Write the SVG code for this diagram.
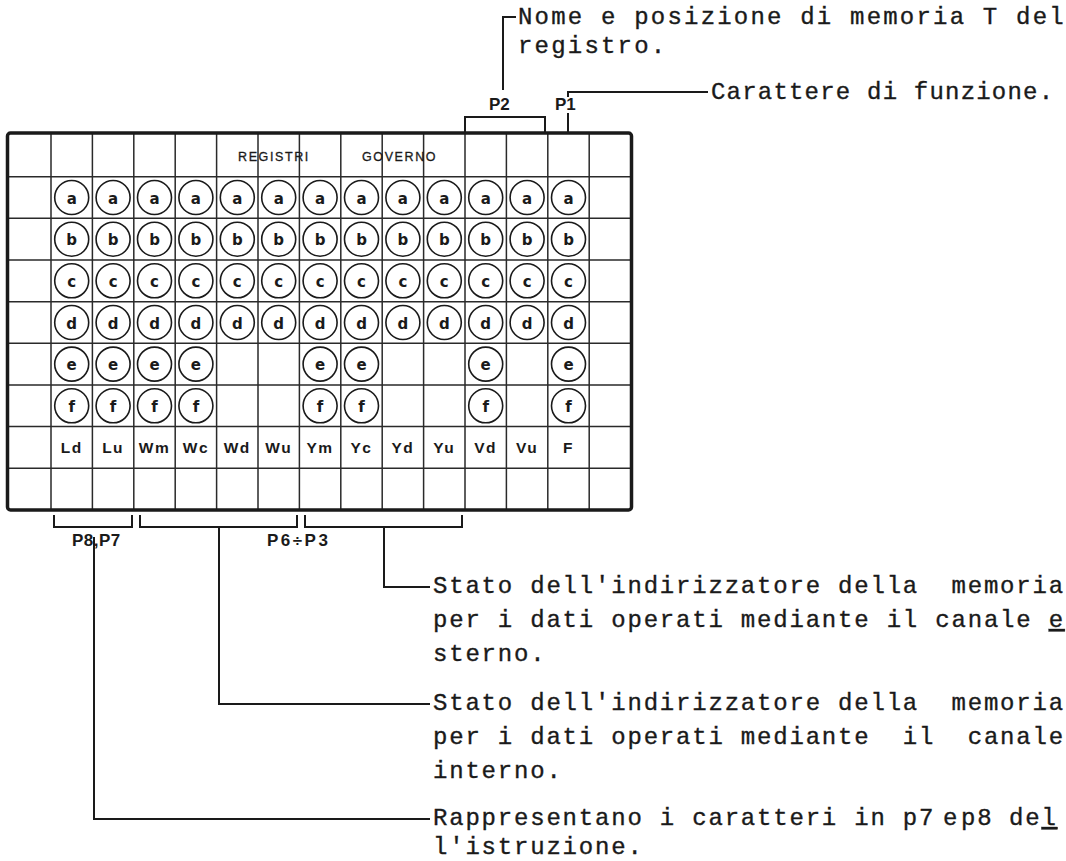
<svg xmlns="http://www.w3.org/2000/svg" width="1066" height="861" viewBox="0 0 1066 861">
<style>
.frame{fill:none;stroke:#1a1a1a;stroke-width:3.5}
.grid{stroke:#2a2a2a;stroke-width:1.5;fill:none}
.cir{fill:none;stroke:#1a1a1a;stroke-width:1.6}
.lt{font-family:"DejaVu Sans",sans-serif;font-weight:bold;font-size:15px;fill:#1a1a1a;text-anchor:middle}
.lab{font-family:"Liberation Sans",Arial,sans-serif;font-weight:bold;font-size:15.5px;letter-spacing:1.5px;fill:#1a1a1a;text-anchor:middle}
.hdr{font-family:"Liberation Sans",Arial,sans-serif;font-size:12.5px;letter-spacing:1.6px;fill:#1a1a1a;stroke:#1a1a1a;stroke-width:0.3}
.pl{font-family:"Liberation Sans",Arial,sans-serif;font-weight:bold;font-size:17px;fill:#1a1a1a}
.tw{font-family:"Liberation Mono","Courier New",monospace;font-size:24px;letter-spacing:1.8px;fill:#1a1a1a;stroke:#1a1a1a;stroke-width:0.35;white-space:pre}
.con{fill:none;stroke:#1a1a1a;stroke-width:2}
</style>
<defs>
<g id="ca"><circle class="cir" r="17"/><text class="lt" y="6">a</text></g>
<g id="cb"><circle class="cir" r="17"/><text class="lt" y="6">b</text></g>
<g id="cc"><circle class="cir" r="17"/><text class="lt" y="6">c</text></g>
<g id="cd"><circle class="cir" r="17"/><text class="lt" y="6">d</text></g>
<g id="ce"><circle class="cir" r="17"/><text class="lt" y="6">e</text></g>
<g id="cf"><circle class="cir" r="17"/><text class="lt" y="6">f</text></g>
</defs>
<rect width="1066" height="861" fill="#fff"/>

<g id="panel">
<path class="grid" d="M51,133V510M92.4,133V510M133.8,133V510M175.2,133V510M216.6,133V510M258,133V510M299.4,133V510M340.8,133V510M382.2,133V510M423.6,133V510M465,133V510M506.4,133V510M547.8,133V510M589.2,133V510"/>
<path class="grid" d="M7.5,176.7H631.5M7.5,218.35H631.5M7.5,260H631.5M7.5,301.65H631.5M7.5,343.3H631.5M7.5,384.95H631.5M7.5,426.6H631.5M7.5,468.25H631.5"/>
<rect class="frame" x="7.5" y="133" width="624" height="377" rx="3"/>
<text class="hdr" x="238" y="161">REGISTRI</text>
<text class="hdr" x="362" y="161">GOVERNO</text>
</g>

<g id="col-Ld"><use href="#ca" x="71.7" y="197.5"/><use href="#cb" x="71.7" y="239.2"/><use href="#cc" x="71.7" y="280.8"/><use href="#cd" x="71.7" y="322.5"/><use href="#ce" x="71.7" y="364.1"/><use href="#cf" x="71.7" y="405.8"/><text class="lab" x="71.7" y="453">Ld</text></g>
<g id="col-Lu"><use href="#ca" x="113.1" y="197.5"/><use href="#cb" x="113.1" y="239.2"/><use href="#cc" x="113.1" y="280.8"/><use href="#cd" x="113.1" y="322.5"/><use href="#ce" x="113.1" y="364.1"/><use href="#cf" x="113.1" y="405.8"/><text class="lab" x="113.1" y="453">Lu</text></g>
<g id="col-Wm"><use href="#ca" x="154.5" y="197.5"/><use href="#cb" x="154.5" y="239.2"/><use href="#cc" x="154.5" y="280.8"/><use href="#cd" x="154.5" y="322.5"/><use href="#ce" x="154.5" y="364.1"/><use href="#cf" x="154.5" y="405.8"/><text class="lab" x="154.5" y="453">Wm</text></g>
<g id="col-Wc"><use href="#ca" x="195.9" y="197.5"/><use href="#cb" x="195.9" y="239.2"/><use href="#cc" x="195.9" y="280.8"/><use href="#cd" x="195.9" y="322.5"/><use href="#ce" x="195.9" y="364.1"/><use href="#cf" x="195.9" y="405.8"/><text class="lab" x="195.9" y="453">Wc</text></g>
<g id="col-Wd"><use href="#ca" x="237.3" y="197.5"/><use href="#cb" x="237.3" y="239.2"/><use href="#cc" x="237.3" y="280.8"/><use href="#cd" x="237.3" y="322.5"/><text class="lab" x="237.3" y="453">Wd</text></g>
<g id="col-Wu"><use href="#ca" x="278.7" y="197.5"/><use href="#cb" x="278.7" y="239.2"/><use href="#cc" x="278.7" y="280.8"/><use href="#cd" x="278.7" y="322.5"/><text class="lab" x="278.7" y="453">Wu</text></g>
<g id="col-Ym"><use href="#ca" x="320.1" y="197.5"/><use href="#cb" x="320.1" y="239.2"/><use href="#cc" x="320.1" y="280.8"/><use href="#cd" x="320.1" y="322.5"/><use href="#ce" x="320.1" y="364.1"/><use href="#cf" x="320.1" y="405.8"/><text class="lab" x="320.1" y="453">Ym</text></g>
<g id="col-Yc"><use href="#ca" x="361.5" y="197.5"/><use href="#cb" x="361.5" y="239.2"/><use href="#cc" x="361.5" y="280.8"/><use href="#cd" x="361.5" y="322.5"/><use href="#ce" x="361.5" y="364.1"/><use href="#cf" x="361.5" y="405.8"/><text class="lab" x="361.5" y="453">Yc</text></g>
<g id="col-Yd"><use href="#ca" x="402.9" y="197.5"/><use href="#cb" x="402.9" y="239.2"/><use href="#cc" x="402.9" y="280.8"/><use href="#cd" x="402.9" y="322.5"/><text class="lab" x="402.9" y="453">Yd</text></g>
<g id="col-Yu"><use href="#ca" x="444.3" y="197.5"/><use href="#cb" x="444.3" y="239.2"/><use href="#cc" x="444.3" y="280.8"/><use href="#cd" x="444.3" y="322.5"/><text class="lab" x="444.3" y="453">Yu</text></g>
<g id="col-Vd"><use href="#ca" x="485.7" y="197.5"/><use href="#cb" x="485.7" y="239.2"/><use href="#cc" x="485.7" y="280.8"/><use href="#cd" x="485.7" y="322.5"/><use href="#ce" x="485.7" y="364.1"/><use href="#cf" x="485.7" y="405.8"/><text class="lab" x="485.7" y="453">Vd</text></g>
<g id="col-Vu"><use href="#ca" x="527.1" y="197.5"/><use href="#cb" x="527.1" y="239.2"/><use href="#cc" x="527.1" y="280.8"/><use href="#cd" x="527.1" y="322.5"/><text class="lab" x="527.1" y="453">Vu</text></g>
<g id="col-F"><use href="#ca" x="568.5" y="197.5"/><use href="#cb" x="568.5" y="239.2"/><use href="#cc" x="568.5" y="280.8"/><use href="#cd" x="568.5" y="322.5"/><use href="#ce" x="568.5" y="364.1"/><use href="#cf" x="568.5" y="405.8"/><text class="lab" x="568.5" y="453">F</text></g>

<g id="connectors">
<path class="con" d="M465,133V117H545V133"/>
<path class="con" d="M516,17H503V90"/>
<path class="con" d="M708,92H568V97M568,113V133"/>
<path class="con" d="M54,515V527H132V515"/>
<path class="con" d="M140,515V527H297V515"/>
<path class="con" d="M305,515V527H462V515"/>
<path class="con" d="M384,527V587H430"/>
<path class="con" d="M219,527V704H430"/>
<path class="con" d="M94,537V819H430"/>
</g>

<g id="label-p2"><text class="pl" x="489" y="110">P2</text></g>
<g id="label-p1"><text class="pl" x="555" y="110">P1</text></g>
<g id="label-p8p7"><text class="pl" x="72" y="546" style="letter-spacing:0.5px">P8,P7</text></g>
<g id="label-p6p3"><text class="pl" x="267" y="546" style="letter-spacing:2.5px">P6÷P3</text></g>

<g id="note-registro">
<text class="tw" x="518" y="24" style="letter-spacing:2.2px">Nome e posizione di memoria T del</text>
<text class="tw" x="518" y="53" style="letter-spacing:2.2px">registro.</text>
</g>
<g id="note-funzione">
<text class="tw" x="711" y="99" style="letter-spacing:1.2px">Carattere di funzione.</text>
</g>
<g id="note-esterno">
<text class="tw" x="433" y="593">Stato dell'indirizzatore della  memoria</text>
<text class="tw" x="433" y="627">per i dati operati mediante il canale <tspan text-decoration="underline">e</tspan></text>
<text class="tw" x="433" y="661">sterno.</text>
</g>
<g id="note-interno">
<text class="tw" x="433" y="710">Stato dell'indirizzatore della  memoria</text>
<text class="tw" x="433" y="744">per i dati operati mediante  il  canale</text>
<text class="tw" x="433" y="778">interno.</text>
</g>
<g id="note-p7p8">
<text class="tw" x="433" y="825">Rappresentano i caratteri in p7<tspan x="943">e</tspan><tspan x="961">p8</tspan><tspan x="1009">de<tspan text-decoration="underline">l</tspan></tspan></text>
<text class="tw" x="433" y="854">l'istruzione.</text>
</g>
</svg>
